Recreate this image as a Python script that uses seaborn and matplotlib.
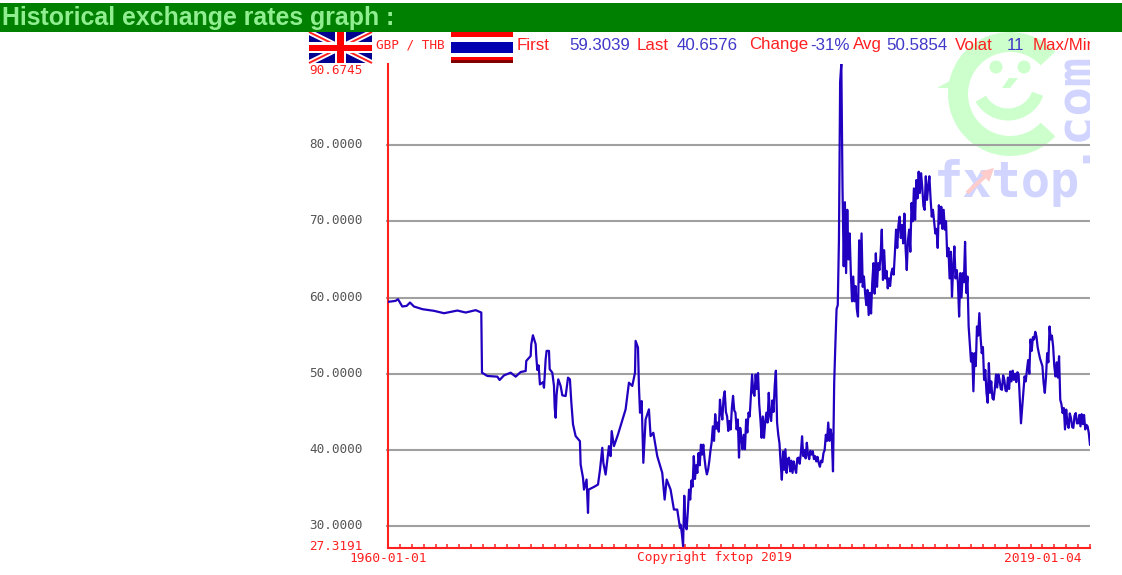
import numpy as np
import matplotlib
matplotlib.use("Agg")
import matplotlib.pyplot as plt
from matplotlib.patches import Rectangle, Wedge, Polygon, Circle, FancyArrow
from matplotlib.transforms import ScaledTranslation
import seaborn as sns

# GBP / THB, first part (fractional year, rate)
early_years = [1960.00, 1960.64, 1960.84, 1961.20, 1961.57, 1961.85, 1962.18, 1962.89, 1963.87, 1964.71,
               1965.83, 1966.53, 1967.37, 1967.84, 1967.90, 1968.35, 1969.19, 1969.38, 1969.75, 1970.31,
               1970.73, 1971.15, 1971.57, 1971.62, 1971.99, 1972.04, 1972.18, 1972.41, 1972.46, 1972.55,
               1972.66, 1972.77, 1973.03, 1973.11, 1973.25, 1973.33, 1973.53, 1973.59, 1973.81, 1973.95,
               1974.01, 1974.09, 1974.17, 1974.31, 1974.51, 1974.65, 1974.93, 1975.13, 1975.29, 1975.41,
               1975.55, 1975.77, 1976.13, 1976.19, 1976.39, 1976.47, 1976.69, 1976.81, 1976.86, 1977.31,
               1977.65, 1977.82, 1978.01, 1978.10, 1978.29, 1978.57, 1978.71, 1978.80, 1978.99, 1979.33,
               1979.97, 1980.25, 1980.53, 1980.76, 1980.81, 1981.01, 1981.09, 1981.18, 1981.32, 1981.46,
               1981.65, 1981.93, 1982.07, 1982.30, 1982.63, 1983.05, 1983.25, 1983.42, 1983.75, 1984.03,
               1984.31, 1984.54]
early_rates = [59.43, 59.56, 59.78, 58.82, 58.90, 59.34, 58.82, 58.47, 58.25, 57.94,
               58.29, 58.03, 58.34, 58.03, 50.14, 49.71, 49.62, 49.18, 49.79, 50.14,
               49.62, 50.23, 50.36, 51.68, 52.33, 53.87, 55.05, 53.87, 52.33, 50.50,
               51.10, 48.60, 48.90, 48.17, 51.90, 53.00, 53.00, 50.60, 50.14, 48.40,
               45.55, 44.23, 47.30, 49.27, 48.40, 47.17, 47.08, 49.49, 49.27, 46.20,
               43.36, 41.82, 41.16, 38.10, 36.35, 34.81, 36.13, 31.75, 34.81, 35.16,
               35.47, 37.44, 40.29, 38.32, 36.78, 40.51, 39.19, 42.48, 40.51, 42.04,
               45.33, 48.83, 48.40, 50.14, 54.31, 53.43, 48.40, 44.89, 46.42, 38.32,
               44.01, 45.33, 41.82, 42.26, 39.19, 37.00, 33.50, 36.13, 34.81, 32.19,
               32.19, 29.78]

# second part, one reading every 0.1 year from 1984.6 on
late_start = 1984.6
late_rates = [30.2, 29.0, 27.4, 34.0,
              30.0, 29.6, 32.0, 34.8, 33.5, 36.0, 35.2, 39.2, 36.2, 38.0,
              37.0, 39.6, 38.0, 40.7, 39.4, 40.7, 38.9, 37.6, 36.8, 37.4,
              38.5, 39.9, 41.0, 43.1, 41.2, 44.7, 42.8, 43.6, 42.4, 46.6,
              45.0, 44.0, 46.8, 47.7, 45.0, 44.4, 42.5, 43.8, 42.7, 45.5,
              47.1, 45.2, 44.9, 42.7, 44.0, 39.0, 42.9, 41.6, 40.1, 42.0,
              40.1, 44.0, 42.3, 44.9, 44.4, 47.1, 49.9, 47.5, 47.1, 49.9,
              48.0, 50.1, 46.0, 44.0, 41.6, 44.4, 41.6, 43.6, 44.9, 43.6,
              47.5, 44.5, 43.8, 46.5, 45.0, 48.4, 50.4, 43.6, 42.0, 40.9,
              38.3, 36.1, 39.8, 37.4, 40.1, 37.0, 38.8, 39.0, 37.2, 38.6,
              37.0, 38.5, 37.6, 37.0, 38.9, 39.0, 38.2, 39.6, 41.8, 39.2,
              40.0, 38.9, 40.95, 39.4, 38.8, 39.9, 39.4, 39.85, 38.8, 39.2,
              38.5, 39.1, 38.3, 37.8, 38.6, 38.4, 39.6, 40.0, 42.0, 41.2,
              43.6, 41.2, 42.7, 41.6, 37.2, 48.8, 53.9, 58.5, 59.0, 67.6,
              88.3, 90.67, 74.3, 64.1, 72.5, 63.2, 71.5, 65.0, 68.4, 63.2,
              59.5, 62.75, 59.5, 61.5, 58.5, 57.5, 67.5, 62.0, 68.4, 61.4,
              62.75, 60.5, 59.0, 61.0, 57.7, 60.6, 57.9, 62.0, 64.5, 60.5,
              65.8, 61.4, 64.5, 63.6, 65.5, 68.9, 62.3, 66.2, 62.5, 63.5,
              61.2, 62.5, 61.5, 63.2, 63.8, 63.0, 65.8, 68.9, 66.5, 69.5,
              70.6, 67.8, 69.5, 67.1, 71.0, 66.5, 63.6, 67.5, 68.9, 66.0,
              72.4, 70.0, 74.3, 70.2, 75.4, 73.0, 76.5, 73.7, 76.3, 74.5,
              72.0, 71.5, 75.9, 72.8, 74.5, 75.9, 73.0, 70.6, 71.5, 70.0,
              68.4, 69.0, 66.5, 72.1, 69.7, 71.9, 69.0, 71.5, 68.9, 70.0,
              65.4, 66.5, 62.5, 66.0, 60.1, 64.0, 66.7, 62.5, 63.6, 62.0,
              57.5, 63.2, 60.0, 63.2, 62.0, 67.3, 60.6, 62.75, 56.2, 54.0,
              51.6, 52.7, 47.7, 52.7, 51.0, 56.2, 55.0, 57.95, 54.9, 52.7,
              53.5, 49.2, 50.5, 47.5, 46.2, 51.4, 47.5, 49.0, 46.8, 46.6,
              48.0, 49.9, 48.2, 49.9, 49.2, 48.0, 47.9, 49.8, 49.2, 47.8,
              47.7, 49.5, 48.0, 50.3, 49.0, 50.4, 49.2, 50.0, 48.9, 50.2,
              49.9, 46.6, 43.5, 45.5, 47.5, 49.65, 49.0, 50.5, 51.8, 50.0,
              54.5, 53.0, 54.8, 54.5, 55.5, 54.9, 53.5, 52.7, 52.0, 51.5,
              51.0, 48.8, 47.5, 49.5, 52.7, 51.5, 56.2, 54.5, 55.0, 53.6,
              51.0, 49.65, 51.5, 49.5, 52.3, 46.6, 46.0, 44.85, 45.5, 42.7,
              45.3, 43.5, 42.9, 44.8, 44.2, 43.0, 42.9, 44.5, 44.85, 43.5,
              43.5, 44.6, 43.1, 44.7, 43.4, 44.6, 42.7, 43.3, 43.1, 42.2,
              40.66]

grid_values = [30, 40, 50, 60, 70, 80]
year_ticks = list(range(1960, 2020))
rate_max = 90.6745
rate_min = 27.3191
date_first = "1960-01-01"
date_last = "2019-01-04"
copyright_text = "Copyright fxtop 2019"
title = "Historical exchange rates graph :"
pair_label = "GBP / THB"
# label, colour, left edge in pixels
stats = [("First", "red", 517), ("59.3039", "blue", 569), ("Last", "red", 637),
         ("40.6576", "blue", 677), ("Change", "red", 749), ("-31%", "blue", 810),
         ("Avg", "red", 853), ("50.5854", "blue", 886), ("Volat", "red", 955),
         ("11", "blue", 1007), ("Max/Min", "red", 1033)]

RED = "#ff2020"
BLUE = "#4038c8"
LINE = "#2200c0"
W, H = 1122, 575

years = early_years + list(late_start + 0.1 * np.arange(len(late_rates)))
rates = early_rates + late_rates

sns.set_style("white")
plt.rcParams["font.family"] = ["Liberation Sans", "DejaVu Sans"]

fig = plt.figure(figsize=(W / 100, H / 100), dpi=100)

# background layer in pixel coordinates: header, flags, watermark
bg = fig.add_axes([0, 0, 1, 1], zorder=0)
bg.set_xlim(0, W)
bg.set_ylim(H, 0)
bg.axis("off")

green = "#ccffcc"
peri = "#d0d4ff"
bg.add_patch(Wedge((1010, 94), 62, 43, 317, width=20, fc=green, ec="none"))
bg.add_patch(Polygon([(937, 88), (955, 78), (965, 78), (965, 88)], fc=green, ec="none"))
bg.add_patch(Circle((996, 67), 6.5, fc=green, ec="none"))
bg.add_patch(Circle((1024, 67), 6.5, fc=green, ec="none"))
bg.add_patch(Polygon([(1009, 78), (1018, 78), (1010, 88), (1002, 88)], fc=green, ec="none"))
bg.add_patch(Wedge((1008, 83), 37.5, 20, 150, width=12, fc=green, ec="none"))
bg.text(934, 197, "fxtop", family="DejaVu Sans Mono", weight="bold", fontsize=35,
        color=peri, va="baseline", ha="left")
bg.add_patch(FancyArrow(967, 193, 27, -25, width=4, head_width=14, head_length=13,
                        length_includes_head=True, fc="#ffcccc", ec="none", zorder=3))
com = bg.text(1083, 163, ".com", family="DejaVu Sans Mono", weight="bold", fontsize=35,
              color=peri, rotation=90, va="baseline", ha="left", rotation_mode="anchor")
com.set_clip_on(True)
com.set_clip_path(Rectangle((0, 0), 1090, H, transform=bg.transData))

# header bar
bg.add_patch(Rectangle((0, 3), W, 29, fc="#008000", ec="none", zorder=5))
bg.text(2, 18, title, fontsize=17.9, weight="bold", color="#90ee90", va="center", zorder=6)

# UK flag
bg.add_patch(Rectangle((309, 32), 63, 31, fc="#000090", ec="none", zorder=4))
diag = [((309, 32), (372, 63)), ((309, 63), (372, 32))]
for (x0, y0), (x1, y1) in diag:
    bg.plot([x0, x1], [y0, y1], color="white", lw=4, solid_capstyle="butt", zorder=4)
    bg.plot([x0, x1], [y0, y1], color=RED, lw=1.4, solid_capstyle="butt", zorder=4)
bg.add_patch(Rectangle((309, 42), 63, 11, fc="white", ec="none", zorder=4))
bg.add_patch(Rectangle((335, 32), 11, 31, fc="white", ec="none", zorder=4))
bg.add_patch(Rectangle((309, 44.5), 63, 6.5, fc="#ff0000", ec="none", zorder=4))
bg.add_patch(Rectangle((337, 32), 7, 31, fc="#ff0000", ec="none", zorder=4))
bg.set_xlim(0, W)
bg.set_ylim(H, 0)

# Thai flag
stripes = [(32, 36.7, "#ff0000"), (36.7, 41.7, "white"), (41.7, 52.7, "#0000b0"),
           (52.7, 56.7, "white"), (56.7, 60, "#ff0000"), (60, 63.3, "#800000")]
for top, bottom, colour in stripes:
    bg.add_patch(Rectangle((451.5, top), 62, bottom - top, fc=colour, ec="none", zorder=4))

bg.text(376, 45, pair_label, family="DejaVu Sans Mono", fontsize=9.2, color=RED, va="center")
for label, kind, left in stats:
    t = bg.text(left, 45, label, fontsize=12.2, color=RED if kind == "red" else BLUE,
                va="center", ha="left", zorder=6)
    t.set_clip_on(True)
    t.set_clip_path(Rectangle((0, 0), 1090, H, transform=bg.transData))

# chart
ax = fig.add_axes([388 / W, 1 - 548.3 / H, 702 / W, (548.3 - 63.6) / H], zorder=1)
ax.patch.set_alpha(0)
sns.lineplot(x=years, y=rates, sort=False, estimator=None, errorbar=None,
             color=LINE, lw=1.6, ax=ax, zorder=3)
ax.set_xlim(1960, 2019)
ax.set_ylim(27.11, rate_max)

ax.set_yticks(grid_values)
ax.set_yticklabels([f"{v:.4f}" for v in grid_values], family="DejaVu Sans Mono",
                   fontsize=9.1, color="#555555")
ax.yaxis.grid(True, color="#a0a0a0", lw=1.5, zorder=1)
ax.tick_params(axis="y", length=1.5, width=1.5, color="#a0a0a0", pad=16.5, left=True)
ax.set_xticks(year_ticks)
ax.set_xticklabels([])
ax.tick_params(axis="x", direction="in", length=3, width=1.1, color=RED, bottom=True)
ax.spines[["top", "right"]].set_visible(False)
ax.spines[["left", "bottom"]].set_color(RED)
ax.spines[["left", "bottom"]].set_linewidth(1.5)
up = ScaledTranslation(0, 2 / 100, fig.dpi_scale_trans)
for tick in ax.yaxis.get_major_ticks():
    tick.label1.set_transform(tick.label1.get_transform() + up)

# red end labels
mono = dict(family="DejaVu Sans Mono", color=RED)
bg.text(309, 70, f"{rate_max:.4f}", va="center", fontsize=9.1, zorder=6, **mono)
bg.text(309, 546, f"{rate_min:.4f}", va="center", fontsize=9.1, **mono)
bg.text(349, 558, date_first, va="center", fontsize=9.3, **mono)
bg.text(637, 558, copyright_text, va="center", fontsize=9.3, **mono)
bg.text(1004, 558, date_last, va="center", fontsize=9.3, **mono)

fig.savefig("out.png", dpi=100)
